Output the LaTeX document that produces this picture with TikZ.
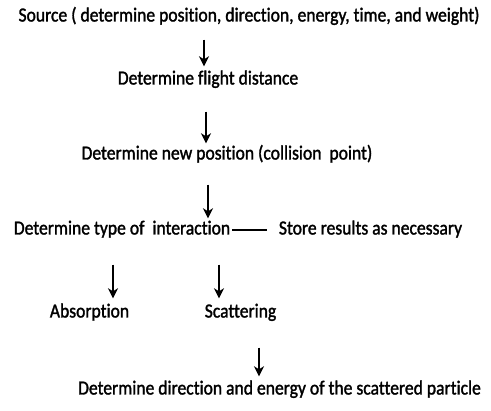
\documentclass[tikz,border=0pt]{standalone}
\usepackage{fontspec}
\setmainfont{Carlito}[Ligatures=NoCommon,FakeStretch=0.88,FakeBold=1.5]
\usetikzlibrary{arrows.meta,positioning,calc}
\tikzset{stage/.style={font=\fontsize{20}{23}\selectfont,inner sep=0pt,
  text height=13pt,text depth=4pt},
  flow/.style={-{Stealth[length=10pt,width=10pt,inset=3pt]},line width=2.2pt}}

\begin{document}
\begin{tikzpicture}[x=1pt,y=-1pt]
\useasboundingbox (0,0) rectangle (491,411);
\node[stage] (src) at (249,17) {Source ( determine position, direction, energy, time, and weight)};
\node[stage] (flight) at (208,80) {Determine flight distance};
\node[stage] (newpos) at (227,155) {Determine new position (collision\ \ point)};
\node[stage] (type) at (122,230) {Determine type of\ \ interaction};
\node[stage] (store) at (370.5,230) {Store results as necessary};
\node[stage] (absorb) at (89.5,313) {Absorption};
\node[stage] (scatter) at (240.5,313) {Scattering};
\node[stage] (dirn) at (279.5,390) {Determine direction and energy of the\ scattered particle};
\draw[flow,shorten <=14pt,shorten >=5pt] ([xshift=-4pt]flight.north |- src.south) -- ([xshift=-4pt]flight.north);
\draw[flow,shorten <=23pt,shorten >=3pt] ([xshift=-2pt]flight.south) -- ([xshift=-2pt]flight.south |- newpos.north);
\draw[flow,shorten <=21pt,shorten >=3pt] (flight.south |- newpos.south) -- (flight.south |- type.north);
\draw[line width=2.2pt,shorten <=2pt,shorten >=12pt] (type.east) -- (store.west);
\draw[flow,shorten <=26pt,shorten >=6pt] ([xshift=23.5pt]absorb.north |- type.south) -- ([xshift=23.5pt]absorb.north);
\draw[flow,shorten <=26pt,shorten >=6pt] ([xshift=-21.5pt]scatter.north |- type.south) -- ([xshift=-21.5pt]scatter.north);
\draw[flow,shorten <=26pt,shorten >=5pt] ([xshift=18.5pt]scatter.south) -- ([xshift=18.5pt]scatter.south |- dirn.north);
\end{tikzpicture}
\end{document}
